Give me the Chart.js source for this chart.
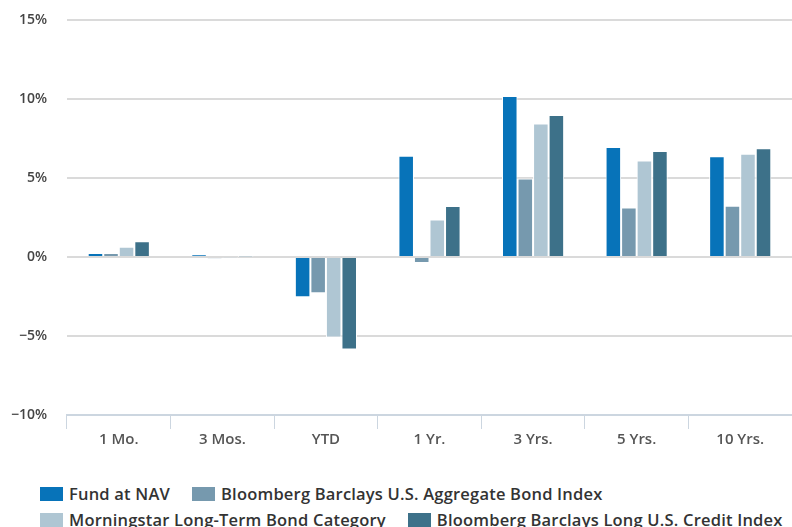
<!DOCTYPE html>
<html>
<head>
<meta charset="utf-8">
<script src="https://cdn.jsdelivr.net/npm/chart.js@4.4.1/dist/chart.umd.min.js"></script>
<style>
  body { margin: 0; background: #fff; overflow: hidden; }
  #wrap { position: relative; width: 792px; height: 527px; overflow: hidden; }
  #legend { position: absolute; left: 40px; top: 482px; width: 790px; font-family: "Open Sans", sans-serif; font-size: 16.5px; letter-spacing: 0.2px; font-weight: 600; color: #333; }
  .item { display: inline-block; margin-right: 22px; height: 24px; line-height: 20px; white-space: nowrap; }
  .box { display: inline-block; width: 23px; height: 14px; vertical-align: top; margin-top: 3px; margin-right: 6px; }
</style>
</head>
<body>
<div id="wrap">
  <canvas id="chart" width="792" height="470"></canvas>
  <div id="legend"></div>
</div>
<script>
// periods along the x axis
var periods = ['1 Mo.', '3 Mos.', 'YTD', '1 Yr.', '3 Yrs.', '5 Yrs.', '10 Yrs.'];

// returns in %
var fundNav      = [0.25, 0.15, -2.55, 6.41, 10.19, 6.96, 6.37];
var aggIndex     = [0.25, -0.1, -2.3, -0.38, 4.97, 3.14, 3.25];
var morningstar  = [0.65, -0.03, -5.1, 2.38, 8.45, 6.11, 6.54];
var creditIndex  = [1.0, 0.02, -5.85, 3.23, 8.98, 6.71, 6.88];

var seriesNames = ['Fund at NAV', 'Bloomberg Barclays U.S. Aggregate Bond Index',
                   'Morningstar Long-Term Bond Category', 'Bloomberg Barclays Long U.S. Credit Index'];
var seriesColors = ['#0773b9', '#7699ae', '#afc6d3', '#3d7189'];
var seriesData = [fundNav, aggIndex, morningstar, creditIndex];

var datasets = [];
for (let i = 0; i < seriesData.length; i++) {
    datasets.push({
        label: seriesNames[i],
        data: seriesData[i],
        backgroundColor: seriesColors[i],
        borderColor: '#ffffff',
        borderWidth: 1,
        categoryPercentage: 0.6,
        barPercentage: 1.0
    });
}

var ctx = document.getElementById('chart');
var chart = new Chart(ctx, {
    type: 'bar',
    data: { labels: periods, datasets: datasets },
    options: {
        responsive: false,
        animation: false,
        layout: { padding: { top: 20, left: 0, right: 0, bottom: 0 } },
        plugins: { legend: { display: false }, tooltip: { enabled: false } },
        scales: {
            x: {
                grid: { offset: true, drawOnChartArea: false, drawTicks: true, tickLength: 14, color: '#ccd6e0', lineWidth: 1 },
                border: { display: true, color: '#ccd6e0', width: 2 },
                ticks: { padding: 2, color: '#555', font: { family: 'Open Sans', size: 15, weight: '600' } },
                afterFit: function (scale) { scale.height = 55; }
            },
            y: {
                min: -10,
                max: 15,
                grid: {
                    drawTicks: true,
                    tickLength: 16,
                    tickColor: 'rgba(0,0,0,0)',
                    lineWidth: 2,
                    color: function (c) { return c.tick && c.tick.value === -10 ? 'rgba(0,0,0,0)' : '#dadada'; }
                },
                border: { display: false },
                ticks: {
                    stepSize: 5,
                    padding: 4,
                    color: '#444',
                    font: { family: 'Open Sans', size: 14, weight: '600' },
                    callback: function (v) { return (v < 0 ? '\u2212' + Math.abs(v) : v) + '%'; }
                },
                afterFit: function (scale) { scale.width = 67; }
            }
        }
    }
});

// html legend built from the same series
var legend = document.getElementById('legend');
for (let i = 0; i < seriesNames.length; i++) {
    var item = document.createElement('span');
    item.className = 'item';
    var box = document.createElement('span');
    box.className = 'box';
    box.style.background = seriesColors[i];
    item.append(box);
    item.append(document.createTextNode(seriesNames[i]));
    legend.append(item);
}
</script>
</body>
</html>
